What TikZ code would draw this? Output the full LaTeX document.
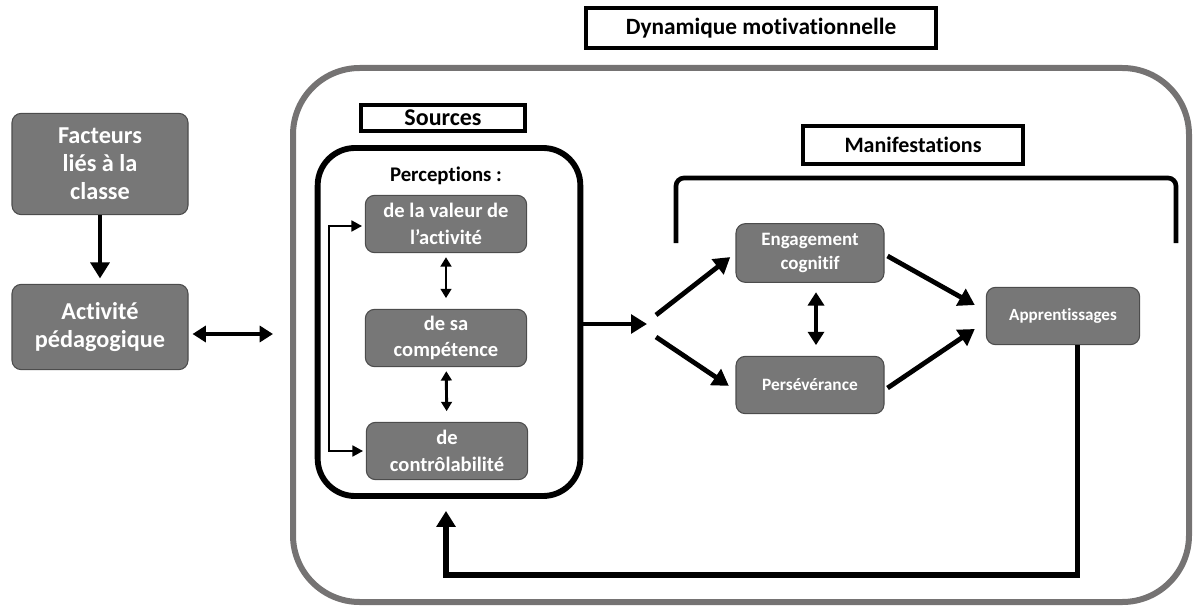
\documentclass[tikz,border=0pt]{standalone}
\usepackage{fontspec}
\setmainfont{Carlito}[Ligatures=NoCommon]
\usetikzlibrary{arrows.meta,positioning,calc}
\definecolor{boxgray}{HTML}{777777}
\definecolor{framegray}{HTML}{757373}

\begin{document}
\begin{tikzpicture}[x=0.75pt, y=-0.75pt]
% styles
\tikzset{greybox/.style={draw=black!70, line width=0.8pt, fill=boxgray, rounded corners=7pt,
           text=white, align=center, inner sep=0pt},
         headbox/.style={draw=black, line width=3pt, fill=white, inner sep=0pt,
           font=\bfseries\fontsize{17.5}{20}\selectfont},
         bigfont/.style={font=\bfseries\fontsize{18.2}{21}\selectfont},
         midfont/.style={font=\bfseries\fontsize{15.4}{20}\selectfont},
         smallfont/.style={font=\bfseries\fontsize{13}{18}\selectfont},
         fatarrow/.style={line width=3.6pt, -{Triangle[length=12pt,width=14pt]}},
         fatboth/.style={line width=3.6pt, {Triangle[length=10pt,width=12pt]}-{Triangle[length=10pt,width=12pt]}},
         thinboth/.style={line width=2.2pt, {Triangle[length=7pt,width=8pt]}-{Triangle[length=7pt,width=8pt]}}}
\useasboundingbox (0,0) rectangle (1196,613);

% frames
\draw[draw=framegray, line width=4.5pt, rounded corners=50pt] (293,68) rectangle (1189,602);
\node[draw, line width=4.4pt, rounded corners=28pt, minimum width=197pt, minimum height=261pt] (sources) at (449,322) {};
\draw[line width=3.5pt, rounded corners=6pt] (676,243) |- (926,178) -| (1176,243);

% titles
\node[headbox, minimum width=263pt, minimum height=30pt] (dynamique) at (761,28) {Dynamique motivationnelle};
\node[headbox, font=\bfseries\fontsize{18}{20}\selectfont, minimum width=123pt, minimum height=20pt] (sourcestitle) at (443,118) {Sources};
\node[headbox, font=\bfseries\fontsize{16.5}{20}\selectfont, minimum width=165pt, minimum height=29pt] (manifestitle) at (913,145) {Manifestations};

% left column
\node[greybox, bigfont, minimum width=132pt, minimum height=76pt] (facteurs) at (100,164) {Facteurs\\liés à la\\classe};
\node[greybox, bigfont, minimum width=132pt, minimum height=64pt] (activite) at (100,327) {Activité\\pédagogique};

% perceptions
\node[font=\bfseries\fontsize{15.6}{18}\selectfont] (perceptions) at (446,176) {Perceptions :};
\node[greybox, midfont, minimum width=121pt, minimum height=43pt] (valeur) at (446,224) {de la valeur de\\l’activité};
\node[greybox, midfont, minimum width=121pt, minimum height=43pt] (competence) at (446,338) {de sa\\compétence};
\node[greybox, midfont, minimum width=121pt, minimum height=43pt] (controle) at (447,451) {de\\contrôlabilité};

% manifestations
\node[greybox, font=\bfseries\fontsize{14.2}{18}\selectfont, minimum width=111pt, minimum height=44pt] (engagement) at (810,253) {Engagement\\cognitif};
\node[greybox, smallfont, minimum width=111pt, minimum height=43pt] (perseverance) at (810,385) {Persévérance};
\node[greybox, font=\bfseries\fontsize{12.8}{18}\selectfont, minimum width=115pt, minimum height=43pt] (apprent) at (1063,316) {Apprentissages};

% coordinates
\coordinate (cadre) at (273,334);
\coordinate (fork) at (647,324);
\coordinate (forkup) at (656,315);
\coordinate (forkdown) at (656,337);
\coordinate (retour) at (446,575);

% arrows
\draw[fatarrow, shorten >=4pt] (facteurs) -- (activite);
\draw[fatboth, shorten <=3pt] (activite.east |- cadre) -- (cadre);
\draw[thinboth, shorten <=3pt, shorten >=8pt] (valeur) -- (competence);
\draw[thinboth, shorten <=3pt, shorten >=8pt] (competence) -- (controle);
\draw[line width=1.9pt, {Triangle[length=8pt,width=8pt]}-{Triangle[length=8pt,width=8pt]}, shorten <=2pt, shorten >=2pt]
  ([yshift=-1.5pt]valeur.west) -- ++(-36,0) |- (controle.west);
\draw[fatarrow] (sources.east |- fork) -- (fork);
\draw[fatarrow, shorten >=5pt] (forkup) -- (engagement.west);
\draw[fatarrow, shorten >=6pt] (forkdown) -- ([yshift=-4pt]perseverance.west);
\draw[fatboth, shorten <=7pt, shorten >=8pt] ([xshift=4.5pt]engagement.south) -- ([xshift=4.5pt]perseverance.north);
\draw[fatarrow] ($(engagement.east)+(3,3)$) -- ($(apprent.west)+(-11,-11)$);
\draw[fatarrow] ($(perseverance.east)+(3,3)$) -- ($(apprent.west)+(-11,13)$);
\draw[fatarrow, line width=3.8pt, shorten >=9pt] ([xshift=11pt]apprent.south) |- (retour) -- (retour |- sources.south);
\end{tikzpicture}
\end{document}
